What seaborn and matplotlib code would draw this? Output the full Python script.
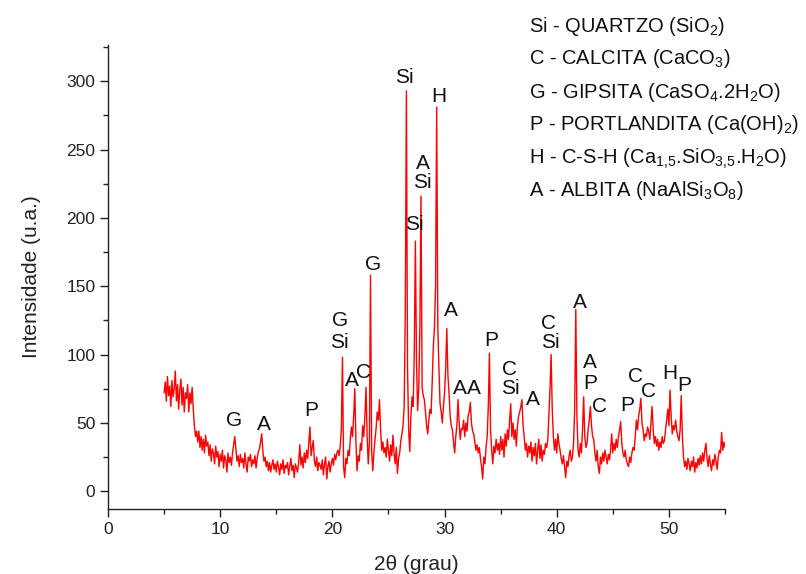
import numpy as np
import matplotlib
matplotlib.use("Agg")
import matplotlib.pyplot as plt
from matplotlib.ticker import MultipleLocator
import seaborn as sns

# ---- data: 2theta grid (0.1 deg step) and intensities ----
two_theta_start = 5.0
two_theta_step = 0.1
intensity = [
    # 5.x
    72, 80, 66, 84, 70, 77, 62, 81, 69, 75,
    # 6.x
    88, 66, 78, 60, 74, 82, 63, 76, 58, 72,
    # 7.x
    68, 78, 58, 72, 64, 76, 60, 48, 40, 44,
    # 8.x
    36, 44, 32, 40, 30, 38, 28, 41, 33, 36,
    # 9.x
    26, 34, 22, 31, 28, 20, 33, 25, 29, 18,
    # 10.x
    27, 22, 30, 17, 26, 23, 14, 28, 21, 25,
    # 11.x
    19, 28, 34, 40, 31, 22, 26, 18, 27, 21,
    # 12.x
    24, 17, 28, 20, 14, 25, 22, 27, 18, 23,
    # 13.x
    20, 26, 17, 24, 29, 31, 36, 42, 30, 22,
    # 14.x
    25, 18, 22, 15, 21, 14, 19, 23, 16, 20,
    # 15.x
    14, 22, 18, 12, 20, 16, 23, 13, 19, 17,
    # 16.x
    21, 12, 18, 24, 15, 19, 10, 20, 17, 14,
    # 17.x
    22, 34, 19, 25, 17, 28, 21, 30, 24, 35,
    # 18.x
    47, 26, 32, 37, 22, 18, 25, 15, 21, 19,
    # 19.x
    16, 23, 12, 20, 25, 9, 18, 22, 14, 20,
    # 20.x
    24, 19, 27, 23, 28, 30, 26, 33, 45, 98,
    # 21.x
    18, 10, 24, 20, 30, 26, 38, 47, 40, 55,
    # 22.x
    75, 36, 15, 26, 22, 35, 30, 48, 40, 55,
    # 23.x
    76, 40, 20, 35, 158, 30, 15, 28, 38, 46,
    # 24.x
    58, 52, 67, 45, 30, 36, 28, 32, 25, 38,
    # 25.x
    30, 22, 34, 26, 41, 28, 20, 32, 13, 24,
    # 26.x
    28, 37, 42, 48, 62, 130, 293, 90, 45, 29,
    # 27.x
    55, 69, 62, 100, 183, 95, 59, 75, 120, 216,
    # 28.x
    76, 70, 67, 58, 48, 42, 52, 60, 57, 80,
    # 29.x
    106, 120, 150, 281, 120, 90, 64, 58, 50, 62,
    # 30.x
    72, 90, 119, 85, 72, 55, 48, 45, 36, 28,
    # 31.x
    40, 48, 67, 50, 38, 46, 45, 52, 40, 50,
    # 32.x
    44, 55, 58, 65, 50, 44, 42, 36, 30, 34,
    # 33.x
    28, 32, 24, 18, 9, 25, 20, 32, 40, 62,
    # 34.x
    101, 45, 30, 20, 33, 28, 38, 30, 35, 27,
    # 35.x
    40, 30, 38, 25, 42, 33, 45, 38, 52, 64,
    # 36.x
    40, 50, 38, 45, 33, 48, 55, 58, 62, 67,
    # 37.x
    48, 40, 30, 35, 25, 33, 28, 36, 22, 32,
    # 38.x
    26, 35, 20, 30, 38, 24, 34, 22, 30, 27,
    # 39.x
    35, 32, 37, 55, 75, 100, 60, 40, 30, 38,
    # 40.x
    28, 42, 35, 30, 24, 20, 26, 18, 10, 22,
    # 41.x
    18, 26, 30, 22, 25, 35, 60, 133, 55, 30,
    # 42.x
    25, 35, 28, 45, 69, 40, 32, 35, 45, 52,
    # 43.x
    62, 48, 40, 38, 28, 22, 30, 18, 13, 25,
    # 44.x
    20, 28, 22, 30, 25, 20, 27, 23, 30, 42,
    # 45.x
    28, 35, 30, 38, 32, 40, 45, 51, 35, 28,
    # 46.x
    25, 30, 23, 20, 18, 25, 21, 28, 32, 30,
    # 47.x
    40, 52, 45, 55, 60, 68, 50, 45, 37, 42,
    # 48.x
    40, 47, 44, 38, 50, 62, 45, 35, 40, 33,
    # 49.x
    38, 30, 36, 32, 40, 35, 37, 45, 52, 60,
    # 50.x
    48, 74, 55, 42, 48, 45, 52, 44, 40, 37,
    # 51.x
    45, 70, 40, 25, 18, 22, 16, 24, 20, 15,
    # 52.x
    22, 18, 25, 14, 21, 17, 24, 19, 26, 20,
    # 53.x
    28, 22, 30, 35, 24, 18, 26, 20, 15, 23,
    # 54.x
    19, 27, 22, 16, 25, 30, 28, 43, 30, 36,
    # 55.0
    32,
]
two_theta = two_theta_start + two_theta_step * np.arange(len(intensity))

# peak labels (phase letters) and their positions
peak_label_text = ["G", "A", "P", "G", "Si", "A", "C", "G", "Si", "Si", "A", "Si",
                   "H", "A", "A", "A", "P", "C", "Si", "A", "C", "Si", "A", "A",
                   "P", "C", "P", "C", "C", "H", "P"]
peak_label_x = [11.25, 13.9, 18.1, 20.7, 20.6, 21.7, 22.8, 23.6, 26.4, 27.3, 28.1, 28.0,
                29.5, 30.6, 31.4, 32.6, 34.2, 35.8, 35.9, 37.9, 39.3, 39.4, 42.1, 43.0,
                43.0, 43.8, 46.3, 47.0, 48.2, 50.1, 51.4]
peak_label_y = [52, 49, 59, 125, 109, 81, 87, 166, 303, 195, 240, 226,
                289, 132, 75, 75, 110, 89, 75, 67, 123, 109, 138, 94,
                79, 62, 63, 84, 73, 86, 77]

legend_lines = [
    r"Si - QUARTZO (SiO$_2$)",
    r"C - CALCITA (CaCO$_3$)",
    r"G - GIPSITA (CaSO$_4$.2H$_2$O)",
    r"P - PORTLANDITA (Ca(OH)$_2$)",
    r"H - C-S-H (Ca$_{1{,}5}$.SiO$_{3{,}5}$.H$_2$O)",
    r"A - ALBITA (NaAlSi$_3$O$_8$)",
]

x_label = "2θ (grau)"
y_label = "Intensidade (u.a.)"

# ---- styling ----
sns.set_style("ticks")
plt.rcParams["font.family"] = ["Liberation Sans", "DejaVu Sans"]
plt.rcParams["mathtext.fontset"] = "custom"
plt.rcParams["mathtext.rm"] = "Liberation Sans"
plt.rcParams["mathtext.it"] = "Liberation Sans:italic"
plt.rcParams["mathtext.bf"] = "Liberation Sans:bold"

W, H = 806, 574
fig = plt.figure(figsize=(W / 100, H / 100), dpi=100)
ax_left, ax_right, ax_top, ax_bottom = 108, 725, 45, 509
ax = fig.add_axes([ax_left / W, 1 - ax_bottom / H, (ax_right - ax_left) / W, (ax_bottom - ax_top) / H])

sns.lineplot(x=two_theta, y=intensity, color="#ff0000", linewidth=1.0, ax=ax)

ax.set_xlim(0, 55)
ax.set_ylim(-13, 326.5)
ax.xaxis.set_major_locator(MultipleLocator(10))
ax.xaxis.set_minor_locator(MultipleLocator(5))
ax.yaxis.set_major_locator(MultipleLocator(50))
ax.yaxis.set_minor_locator(MultipleLocator(25))
ax.tick_params(which="major", direction="out", length=6, width=1.0, labelsize=12.5,
               colors="#222222", pad=3)
ax.tick_params(which="minor", direction="out", length=3.5, width=1.0, colors="#222222")
for side in ["top", "right"]:
    ax.spines[side].set_visible(False)
for side in ["left", "bottom"]:
    ax.spines[side].set_linewidth(1.0)
    ax.spines[side].set_color("#222222")

ax.set_xlabel(x_label, fontsize=15, color="#222222", labelpad=13)
ax.set_ylabel(y_label, fontsize=15, color="#222222", labelpad=18)

for t, x, y in zip(peak_label_text, peak_label_x, peak_label_y):
    ax.text(x, y, t, ha="center", va="center", fontsize=15, color="#111111")

leg_x = 529
baselines = [31.5, 64.5, 97.5, 130.5, 163.5, 196.5]
for line, b in zip(legend_lines, baselines):
    fig.text(leg_x / W, 1 - b / H, line, ha="left", va="baseline", fontsize=14.5, color="#111111")

fig.savefig("out.png", dpi=100)
